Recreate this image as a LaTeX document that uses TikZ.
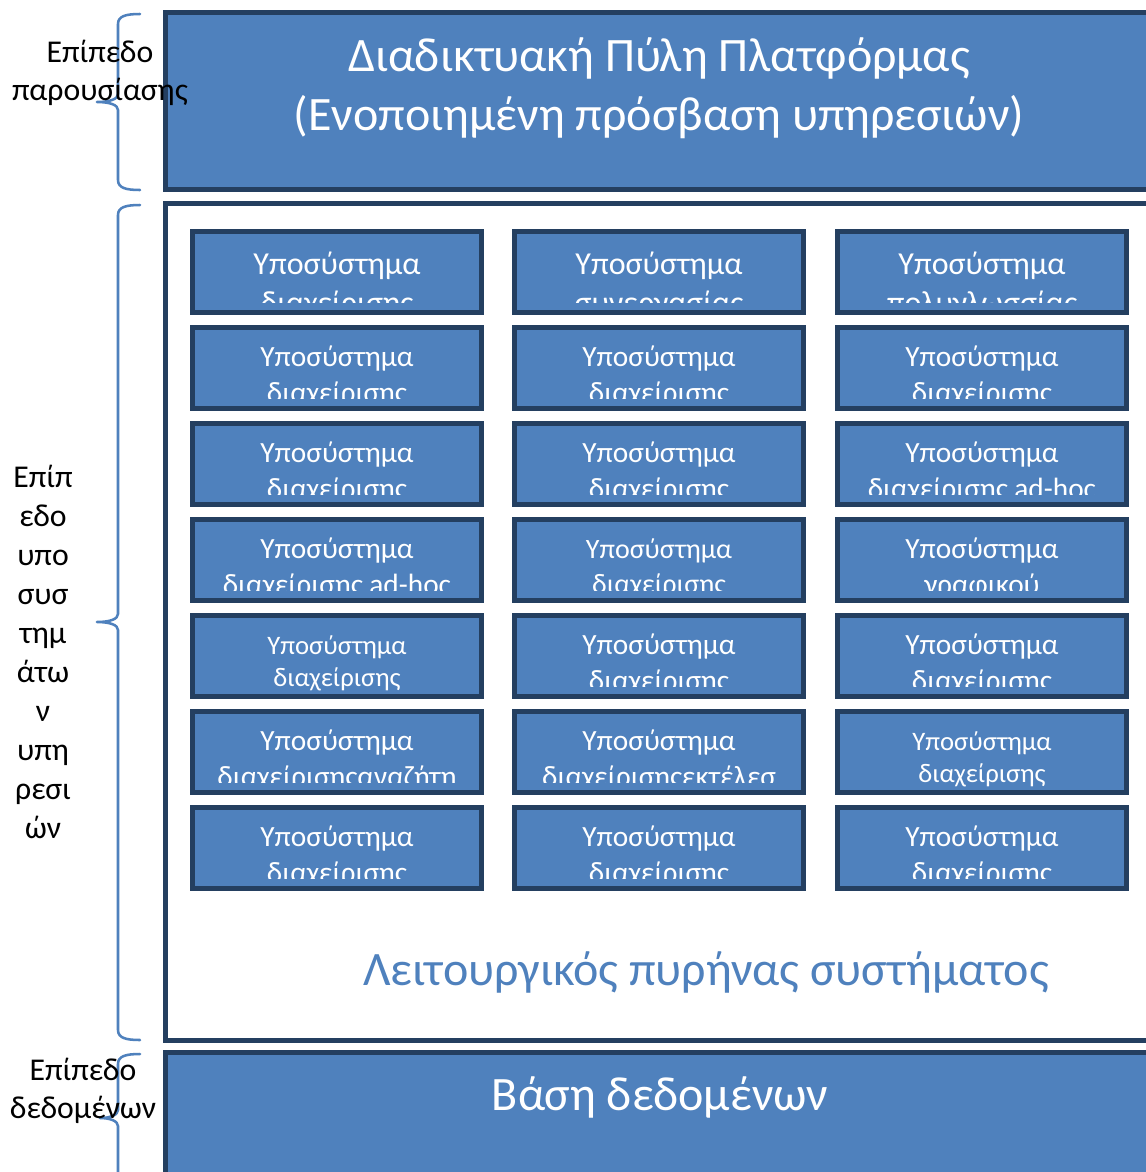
\documentclass[tikz,border=0pt]{standalone}
\usepackage{fontspec}
\setmainfont{Carlito}
\definecolor{fillblue}{HTML}{4F81BD}
\definecolor{darkblue}{HTML}{243F60}
\tikzset{
  layerbox/.style={fill=fillblue, draw=darkblue, line width=3.9pt},
  corebox/.style={fill=white, draw=darkblue, line width=3.9pt},
  subbox/.style={fill=fillblue, draw=darkblue, line width=3.75pt, minimum width=216.75pt, minimum height=60.75pt, inner sep=0pt, outer sep=0pt},
  whitetxt/.style={text=white, anchor=base, inner sep=0pt},
  bigtxt/.style={whitetxt, font=\fontsize{24}{29}\selectfont},
  rowtxt/.style={whitetxt, font=\fontsize{22}{27}\selectfont},
  smalltxt/.style={whitetxt, font=\fontsize{20}{24}\selectfont},
  midtxt/.style={whitetxt, font=\fontsize{21}{25}\selectfont},
  titletxt/.style={whitetxt, font=\fontsize{36}{43}\selectfont},
  coretxt/.style={text=fillblue, anchor=base, inner sep=0pt, font=\fontsize{36}{43}\selectfont},
  lbl/.style={text=black, anchor=base, inner sep=0pt, font=\fontsize{23.8}{28}\selectfont},
  brace/.style={draw=fillblue, line width=1.9pt, line join=round, line cap=round},
}
\newcommand\SubBox[9]{%
  \node[subbox] (#1) at (#2+147,#3+43) {};
  \node[#6] (#1a) at (#2+147,#3+#7) {#4};
  \begin{scope}
    \clip (#2,#3) rectangle (#2+294,#3+#9);
    \node[#6] (#1b) at (#2+147,#3+#7+#8) {#5};
  \end{scope}}
\begin{document}
\begin{tikzpicture}[x=0.75pt,y=-0.75pt]
\clip (0,0) rectangle (1146,1172);
\fill[white] (0,0) rectangle (1146,1172);

% layers
\draw[layerbox] (165.5,12.5) rectangle (1165,189.5);
\draw[corebox] (165.5,203.5) rectangle (1165,1040.5);
\draw[layerbox] (165.5,1052.5) rectangle (1165,1200);

\node[titletxt] (title1) at (659,71) {Διαδικτυακή Πύλη Πλατφόρμας};
\node[titletxt] (title2) at (659,130) {(Ενοποιημένη πρόσβαση υπηρεσιών)};
\node[coretxt] (core) at (706,985) {Λειτουργικός πυρήνας συστήματος};
\node[titletxt] (db) at (660,1110) {Βάση δεδομένων};

% subsystem boxes
\SubBox{b11}{190}{229}{Υποσύστημα}{διαχείρισης}{bigtxt}{45}{39}{73}
\SubBox{b12}{512}{229}{Υποσύστημα}{συνεργασίας}{bigtxt}{45}{39}{73}
\SubBox{b13}{835}{229}{Υποσύστημα}{πολυγλωσσίας}{bigtxt}{45}{39}{73}

\SubBox{b21}{190}{325}{Υποσύστημα}{διαχείρισης}{rowtxt}{41}{36}{73}
\SubBox{b22}{512}{325}{Υποσύστημα}{διαχείρισης}{rowtxt}{41}{36}{73}
\SubBox{b23}{835}{325}{Υποσύστημα}{διαχείρισης}{rowtxt}{41}{36}{73}

\SubBox{b31}{190}{421}{Υποσύστημα}{διαχείρισης}{rowtxt}{41}{36}{73}
\SubBox{b32}{512}{421}{Υποσύστημα}{διαχείρισης}{rowtxt}{41}{36}{73}
\SubBox{b33}{835}{421}{Υποσύστημα}{διαχείρισης ad-hoc}{rowtxt}{41}{36}{73}

\SubBox{b41}{190}{517}{Υποσύστημα}{διαχείρισης ad-hoc}{rowtxt}{41}{36}{73}
\SubBox{b42}{512}{517}{Υποσύστημα}{διαχείρισης}{midtxt}{41}{35}{73}
\SubBox{b43}{835}{517}{Υποσύστημα}{γραφικού}{rowtxt}{41}{36}{73}

\SubBox{b51}{190}{613}{Υποσύστημα}{διαχείρισης}{smalltxt}{41}{32}{81}
\SubBox{b52}{512}{613}{Υποσύστημα}{διαχείρισης}{rowtxt}{41}{36}{73}
\SubBox{b53}{835}{613}{Υποσύστημα}{διαχείρισης}{rowtxt}{41}{36}{73}

\SubBox{b61}{190}{709}{Υποσύστημα}{διαχείρισηςαναζήτη}{rowtxt}{41}{36}{73}
\SubBox{b62}{512}{709}{Υποσύστημα}{διαχείρισηςεκτέλεσ}{rowtxt}{41}{36}{73}
\SubBox{b63}{835}{709}{Υποσύστημα}{διαχείρισης}{smalltxt}{41}{32}{81}

\SubBox{b71}{190}{805}{Υποσύστημα}{διαχείρισης}{rowtxt}{41}{36}{73}
\SubBox{b72}{512}{805}{Υποσύστημα}{διαχείρισης}{rowtxt}{41}{36}{73}
\SubBox{b73}{835}{805}{Υποσύστημα}{διαχείρισης}{rowtxt}{41}{36}{73}

% braces
\draw[brace] (140,14) .. controls (126,14) and (118,16) .. (118,24) -- (118,94)
  .. controls (118,99) and (110,102) .. (97,102)
  .. controls (110,102) and (118,105) .. (118,110) -- (118,180)
  .. controls (118,188) and (126,190) .. (140,190);
\draw[brace] (140,205) .. controls (126,205) and (118,207) .. (118,215) -- (118,614)
  .. controls (118,619) and (110,622) .. (97,622)
  .. controls (110,622) and (118,625) .. (118,630) -- (118,1030)
  .. controls (118,1038) and (126,1040) .. (140,1040);
\draw[brace] (140,1054) .. controls (126,1054) and (118,1056) .. (118,1064) -- (118,1110)
  .. controls (118,1115) and (110,1118) .. (100,1118)
  .. controls (110,1118) and (118,1121) .. (118,1126) -- (118,1175);

% layer labels
\node[lbl] (l1a) at (100,62) {Επίπεδο};
\node[lbl] (l1b) at (100,100) {παρουσίασης};
\node[lbl] (l2a) at (43,487) {Επίπ};
\node[lbl] (l2b) at (43,526) {εδο};
\node[lbl] (l2c) at (43,565) {υπο};
\node[lbl] (l2d) at (43,604) {συσ};
\node[lbl] (l2e) at (43,643) {τημ};
\node[lbl] (l2f) at (43,682) {άτω};
\node[lbl] (l2g) at (43,721) {ν};
\node[lbl] (l2h) at (43,760) {υπη};
\node[lbl] (l2i) at (43,799) {ρεσι};
\node[lbl] (l2j) at (43,838) {ών};
\node[lbl] (l3a) at (83,1080) {Επίπεδο};
\node[lbl] (l3b) at (83,1118) {δεδομένων};
\end{tikzpicture}
\end{document}
